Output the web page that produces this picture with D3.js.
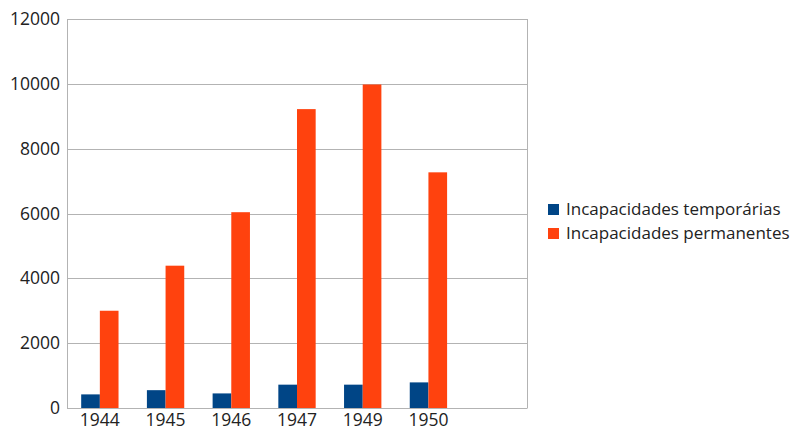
<!DOCTYPE html>
<html><head><meta charset="utf-8">
<script src="https://cdn.jsdelivr.net/npm/d3@7"></script>
<style>body{margin:0;background:#fff}svg{display:block}text{font-family:"Open Sans",sans-serif;fill:#222}</style>
</head><body><svg id="c" width="794" height="430"></svg>
<script>
const categories = ["1944","1945","1946","1947","1949","1950",""];
const seriesNames = ["Incapacidades temporárias","Incapacidades permanentes"];
const temporarias = [420, 550, 450, 720, 720, 790, null];
const permanentes = [3000, 4390, 6040, 9220, 9980, 7270, null];
const yTicks = [0,2000,4000,6000,8000,10000,12000];
const colors = ["#004586","#ff420e"];

const svg = d3.select("#c");
const m = {l:67, r:527, t:19, b:408};
const x = d3.scaleBand().domain(d3.range(categories.length)).range([m.l,m.r]).paddingInner(0).paddingOuter(0);
const inner = d3.scaleBand().domain([0,1]).range([0, x.bandwidth()]).paddingInner(0).paddingOuter(0.76);
const y = d3.scaleLinear().domain([0,12000]).range([m.b,m.t]);

svg.append("g").selectAll("line").data(yTicks).join("line")
  .attr("x1",m.l).attr("x2",m.r).attr("y1",d=>Math.round(y(d))+0.5).attr("y2",d=>Math.round(y(d))+0.5)
  .attr("stroke","#b3b3b3").attr("stroke-width",1);
svg.append("line").attr("x1",m.l+0.5).attr("x2",m.l+0.5).attr("y1",m.t).attr("y2",m.b+0.5).attr("stroke","#b3b3b3");
svg.append("line").attr("x1",m.r+0.5).attr("x2",m.r+0.5).attr("y1",m.t).attr("y2",m.b+0.5).attr("stroke","#b3b3b3");

const ya = svg.append("g").attr("transform",`translate(${m.l-7},0)`)
  .call(d3.axisLeft(y).tickValues(yTicks).tickSize(0).tickPadding(0).tickFormat(d3.format("d")));
ya.select(".domain").remove();
ya.selectAll("text").style("font-size","17.5px").attr("fill","#222").attr("font-family","Open Sans");

const xa = svg.append("g").attr("transform",`translate(0,${m.b})`)
  .call(d3.axisBottom(x).tickSize(0).tickPadding(6).tickFormat(i=>categories[i]));
xa.select(".domain").remove();
xa.selectAll("text").style("font-size","17.5px").attr("fill","#222").attr("font-family","Open Sans");

const series = [temporarias, permanentes];
series.forEach((vals, si) => {
  svg.append("g").selectAll("rect").data(vals.map((v,i)=>({v,i})).filter(d=>d.v!=null)).join("rect")
    .attr("x", d => x(d.i) + inner(si))
    .attr("width", inner.bandwidth())
    .attr("y", d => y(d.v))
    .attr("height", d => y(0) - y(d.v))
    .attr("fill", colors[si]);
});

const lg = svg.append("g").attr("transform","translate(548,204)");
seriesNames.forEach((n,i)=>{
  lg.append("rect").attr("x",0).attr("y",i*24).attr("width",11).attr("height",11).attr("fill",colors[i]);
  lg.append("text").attr("x",18).attr("y",i*24+11).text(n).style("font-size","17px");
});
</script></body></html>
